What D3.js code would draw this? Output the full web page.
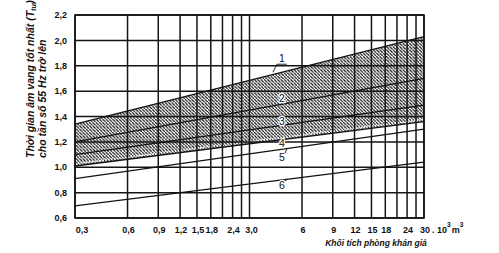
<!DOCTYPE html>
<html>
<head>
<meta charset="utf-8">
<script src="https://cdn.jsdelivr.net/npm/d3@7"></script>
<style>
  html, body { margin: 0; padding: 0; background: #fff; }
  svg { display: block; }
  .tick-label { font-family: "Liberation Sans Narrow", "Arial Narrow", "Liberation Sans", sans-serif; font-weight: bold; font-size: 9px; fill: #111; }
  .title { font-family: "Liberation Sans", Arial, sans-serif; font-style: italic; font-weight: bold; font-size: 8.5px; fill: #111; }
  .ytitle { font-family: "Liberation Sans Narrow", "Arial Narrow", "Liberation Sans", sans-serif; font-style: italic; font-weight: bold; font-size: 10.5px; fill: #111; }
  .num { font-family: "Liberation Sans", Arial, sans-serif; font-size: 10.5px; fill: #111; }
  .num.halo { stroke: #fff; stroke-width: 2.6px; paint-order: stroke; stroke-linejoin: round; }
</style>
</head>
<body>
<div id="chart"></div>
<script>
// chart values
const xTicks = [0.3, 0.6, 0.9, 1.2, 1.5, 1.8, 2.1, 2.4, 2.7, 3, 6, 9, 12, 15, 18, 21, 24, 27, 30];
const xLabels = ["0,3", "0,6", "0,9", "1,2", "1,5", "1,8", "", "2,4", "", "3,0", "6", "9", "12", "15", "18", "", "24", "", "30"];
const yTicks = [0.6, 0.8, 1.0, 1.2, 1.4, 1.6, 1.8, 2.0, 2.2];
const yLabels = ["0,6", "0,8", "1,0", "1,2", "1,4", "1,6", "1,8", "2,0", "2,2"];

const lineNames = ["1", "2", "3", "4", "5", "6"];
const lineStart = [1.34, 1.20, 1.10, 1.01, 0.91, 0.695];   // at 0,3
const lineEnd   = [2.03, 1.70, 1.49, 1.36, 1.30, 1.04];    // at 30
const xMin = 0.3, xMax = 30;
const labelX = 4.6;

const width = 499, height = 253;
const margin = { left: 75, right: 75, top: 15, bottom: 35 };

const svg = d3.select("#chart").append("svg")
    .attr("width", width)
    .attr("height", height);

const x = d3.scaleLog().domain([xMin, xMax]).range([margin.left, width - margin.right]);
const y = d3.scaleLinear().domain([0.6, 2.2]).range([height - margin.bottom, margin.top]);

// hatch pattern
const defs = svg.append("defs");
defs.append("pattern")
    .attr("id", "hatch")
    .attr("patternUnits", "userSpaceOnUse")
    .attr("width", 3.3)
    .attr("height", 3.3)
  .append("path")
    .attr("d", "M-0.9,-0.9 l1.8,1.8 M0,0 l3.3,3.3 M2.4,2.4 l1.8,1.8")
    .attr("stroke", "#111")
    .attr("stroke-width", 1.2);

defs.append("clipPath").attr("id", "plot-clip")
  .append("rect")
    .attr("x", margin.left).attr("y", margin.top)
    .attr("width", width - margin.left - margin.right)
    .attr("height", height - margin.top - margin.bottom);

const lines = lineNames.map((name, i) => ({
    name,
    pts: [[xMin, lineStart[i]], [xMax, lineEnd[i]]]
}));
const valueAt = (l, v) => {
    const t = (Math.log(v) - Math.log(xMin)) / (Math.log(xMax) - Math.log(xMin));
    return l.pts[0][1] + t * (l.pts[1][1] - l.pts[0][1]);
};

// hatched band between lines 1 and 4
const area = d3.area()
    .x(d => x(d[0]))
    .y0(d => y(d[2]))
    .y1(d => y(d[1]));
const band = [[xMin, lineStart[0], lineStart[3]], [xMax, lineEnd[0], lineEnd[3]]];
svg.append("path")
    .attr("d", area(band))
    .attr("fill", "url(#hatch)");

// dotted strip just above line 4
svg.append("line")
    .attr("x1", x(xMin)).attr("y1", y(lineStart[3]) - 2.2)
    .attr("x2", x(xMax)).attr("y2", y(lineEnd[3]) - 2.2)
    .attr("stroke", "#fff")
    .attr("stroke-width", 1.6)
    .attr("stroke-dasharray", "1.2,1.6");

// grid
const grid = svg.append("g").attr("stroke", "#151515").attr("stroke-width", 1.5);
grid.selectAll("line.v")
    .data(xTicks)
    .join("line")
    .attr("class", "v")
    .attr("x1", d => x(d)).attr("x2", d => x(d))
    .attr("y1", y(0.6)).attr("y2", y(2.2));
grid.selectAll("line.h")
    .data(yTicks)
    .join("line")
    .attr("class", "h")
    .attr("x1", x(xMin)).attr("x2", x(xMax))
    .attr("y1", d => y(d)).attr("y2", d => y(d));

// data lines
const lineGen = d3.line().x(d => x(d[0])).y(d => y(d[1]));
svg.append("g")
    .attr("clip-path", "url(#plot-clip)")
  .selectAll("path")
  .data(lines)
  .join("path")
    .attr("d", d => lineGen(d.pts))
    .attr("fill", "none")
    .attr("stroke", "#111")
    .attr("stroke-width", 1.3);

// line numbers with small leaders (offset of label centre from the line, px)
const labelOffsets = { "1": -14, "2": -6, "3": -4, "4": 4, "5": 8, "6": 5 };
const lab = svg.append("g");
lines.forEach(l => {
    const lx = x(labelX), ly = y(valueAt(l, labelX));
    const off = labelOffsets[l.name];
    const cy = ly + off;
    lab.append("text")
        .attr("class", "num halo")
        .attr("x", lx)
        .attr("y", cy)
        .attr("text-anchor", "middle")
        .attr("dy", "0.36em")
        .text(l.name);
    if (l.name === "1") {
        lab.append("path")
            .attr("d", `M${lx - 9},${ly} L${lx - 5},${cy + 6} L${lx + 5},${cy + 6}`)
            .attr("fill", "none").attr("stroke", "#111").attr("stroke-width", 0.9);
    } else if (off > 0) {
        lab.append("line")
            .attr("x1", lx + 3).attr("y1", cy - 4)
            .attr("x2", lx + 5).attr("y2", ly - 0.5)
            .attr("stroke", "#111").attr("stroke-width", 0.9);
    }
});

// tick labels
svg.append("g").selectAll("text")
    .data(yTicks)
    .join("text")
    .attr("class", "tick-label")
    .attr("x", margin.left - 8)
    .attr("y", d => y(d))
    .attr("dy", "0.35em")
    .attr("text-anchor", "end")
    .text((d, i) => yLabels[i]);

svg.append("g").selectAll("text")
    .data(xTicks.map((v, i) => ({ v, s: xLabels[i] })).filter(d => d.s))
    .join("text")
    .attr("class", "tick-label")
    .attr("x", d => x(d.v) + (d.v === xMin ? 7 : (d.v === 3 ? 2 : 1)))
    .attr("y", y(0.6) + 15)
    .attr("text-anchor", "middle")
    .text(d => d.s);

// unit after 30
const unit = svg.append("text")
    .attr("class", "tick-label")
    .attr("x", x(xMax) + 8)
    .attr("y", y(0.6) + 15);
unit.append("tspan").text(". 10");
unit.append("tspan").attr("dy", -6).attr("font-size", "6.5px").text("3");
unit.append("tspan").attr("dy", 6).attr("dx", 1).text("m");
unit.append("tspan").attr("dy", -6).attr("font-size", "6.5px").text("3");

// axis titles
svg.append("text")
    .attr("class", "title")
    .attr("x", 376)
    .attr("y", 246)
    .attr("text-anchor", "middle")
    .text("Khối tích phòng khán giả");

const yt = svg.append("g").attr("transform", "translate(34,158) rotate(-90)");
const t1 = yt.append("text").attr("class", "ytitle").attr("x", 0).attr("y", 0);
t1.append("tspan").text("Thời gian âm vang tốt nhất (T");
t1.append("tspan").attr("dy", 2).attr("font-size", "7px").text("tư");
t1.append("tspan").attr("dy", -2).text(")");
yt.append("text").attr("class", "ytitle").attr("x", 0).attr("y", 12)
    .text("cho tần số 55 Hz trở lên");

// frame
svg.append("rect")
    .attr("x", margin.left).attr("y", margin.top)
    .attr("width", width - margin.left - margin.right)
    .attr("height", height - margin.top - margin.bottom)
    .attr("fill", "none")
    .attr("stroke", "#111")
    .attr("stroke-width", 1.5);
</script>
</body>
</html>
